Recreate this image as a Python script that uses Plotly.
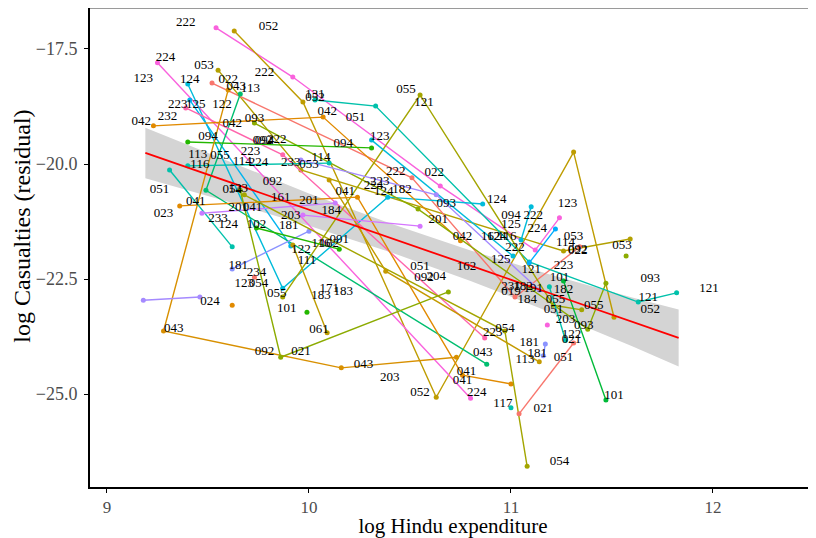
import plotly.graph_objects as go

# ---- district trajectories (log Hindu expenditure, log casualties residual) ----
district_codes = ["222", "052", "224", "053", "022", "124", "125", "113", "223", "042",
                  "093", "121", "055", "094", "041", "043", "051", "233", "024", "181",
                  "101", "101", "092", "061", "054", "021", "117", "181", "113", "224",
                  "222", "122", "102", "201", "234", "043", "116", "123", "203", "053", "093"]
district_colors = ["#F962DD", "#BE9C00", "#F962DD", "#B3A000", "#F8766D", "#00BBDA", "#00B4EF", "#00BE70", "#FF65AC", "#E18A00",
                   "#8CAB00", "#00C1AB", "#A3A500", "#24B700", "#E18A00", "#D89000", "#00C1AB", "#C77CFF", "#A58AFF", "#8B93FF",
                   "#24B700", "#00BA38", "#8CAB00", "#BE9C00", "#A3A500", "#F8766D", "#00C1AB", "#8B93FF", "#C49A00", "#00ACFC",
                   "#00BBDA", "#00C1AB", "#24B700", "#D575FE", "#F8766D", "#E18A00", "#00C1AB", "#00BBDA", "#F962DD", "#8CAB00", "#A58AFF"]
district_x = [
    [9.54, 9.92, 10.65, 11.12, 11.24],
    [9.63, 9.97, 10.63, 11.31, 11.51],
    [9.25, 10.80],
    [9.55, 9.96, 11.26, 11.59],
    [9.52, 10.51, 11.02, 11.34],
    [9.40, 9.87, 10.39, 10.86],
    [9.41, 9.91],
    [9.66, 9.49, 10.88],
    [9.39, 9.87, 10.87],
    [9.23, 10.07, 10.75],
    [9.73, 10.54, 11.38, 11.47],
    [10.03, 10.33, 11.09, 11.63, 11.82],
    [9.87, 10.55, 11.21, 11.35],
    [9.40, 10.31],
    [9.36, 10.24, 10.76, 11.00],
    [9.60, 9.28, 10.16, 10.73],
    [9.31, 9.62],
    [9.47, 10.13],
    [9.18, 9.46],
    [9.62, 10.00],
    [9.99],
    [11.26, 11.47],
    [9.66, 9.86, 10.69],
    [9.92, 10.09],
    [9.68, 10.97, 11.08],
    [11.04, 11.31],
    [11.00],
    [11.17, 11.16],
    [10.10, 10.38, 11.14],
    [11.09, 11.22],
    [11.10, 11.05],
    [11.19, 11.27],
    [9.74, 10.15],
    [9.97, 10.55],
    [9.73],
    [9.62],
    [9.40, 10.10],
    [10.31, 11.01],
    [11.18],
    [11.57],
    [9.96, 10.63, 11.14],
]
district_y = [
    [-17.04, -18.11, -20.48, -21.87, -21.17],
    [-17.11, -18.65, -25.07, -19.74, -23.33],
    [-17.80, -25.09],
    [-17.96, -20.13, -21.89, -21.63],
    [-18.24, -20.30, -22.89, -21.80],
    [-18.26, -22.70, -20.72, -20.87],
    [-18.61, -21.78],
    [-18.48, -20.57, -24.35],
    [-18.78, -19.80, -23.78],
    [-19.17, -18.98, -21.67],
    [-19.11, -20.98, -23.59, -22.59],
    [-18.61, -18.74, -22.13, -23.00, -22.80],
    [-22.89, -18.50, -23.07, -23.17],
    [-19.52, -19.65],
    [-20.91, -20.72, -24.59, -24.78],
    [-18.39, -23.63, -24.43, -24.20],
    [-20.13, -21.80],
    [-21.07, -20.85],
    [-22.96, -22.89],
    [-22.28, -21.46],
    [-23.22],
    [-22.54, -25.13],
    [-20.57, -24.20, -22.78],
    [-21.76, -23.67],
    [-20.67, -23.63, -26.57],
    [-25.43, -23.89],
    [-25.30],
    [-23.91, -24.17],
    [-20.35, -22.33, -24.30],
    [-22.15, -21.41],
    [-20.93, -21.65],
    [-22.67, -23.83],
    [-21.39, -21.85],
    [-21.11, -21.35],
    [-22.46],
    [-23.07],
    [-20.04, -19.98],
    [-19.48, -22.00],
    [-23.50],
    [-22.00],
    [-19.91, -20.67, -22.74],
]

# ---- district code labels ----
label_text = ["222", "052", "224", "053", "222", "123", "124", "022", "043", "113", "131", "052", "055", "121",
              "223", "125", "122", "042", "232", "042", "093", "042", "051", "094", "123", "094", "092", "094",
              "222", "223", "113", "055", "116", "114", "224", "233", "114", "053", "222", "022", "223", "224",
              "182", "124", "051", "092", "054", "123", "161", "201", "041", "093", "124", "201", "023", "041",
              "201", "041", "184", "094", "233", "124", "102", "203", "181", "042", "125", "222", "224", "123",
              "162", "124", "116", "222", "053", "114", "022", "092", "122", "116", "162", "091", "111", "125",
              "121", "223", "053", "162", "051", "092", "204", "171", "183", "183", "181", "234", "123", "054",
              "055", "024", "101", "043", "092", "021", "061", "231", "182", "191", "101", "182", "055", "051",
              "184", "019", "093", "121", "121", "052", "055", "203", "093", "122", "021", "051", "223", "054",
              "181", "181", "113", "043", "041", "041", "224", "052", "117", "021", "054", "101", "043", "203"]
label_x = [9.39, 9.80, 9.29, 9.48, 9.78, 9.18, 9.41, 9.60, 9.64, 9.71, 10.03, 10.03, 10.48, 10.57,
           9.35, 9.44, 9.57, 9.17, 9.30, 9.62, 9.73, 10.09, 10.23, 9.50, 10.35, 10.17, 9.77, 9.78,
           9.84, 9.71, 9.45, 9.56, 9.46, 9.67, 9.75, 9.91, 10.06, 10.00, 10.43, 10.62, 10.35, 10.32,
           10.46, 10.37, 9.26, 9.82, 9.62, 9.65, 9.86, 10.00, 10.18, 10.68, 10.93, 10.64, 9.28, 9.44,
           9.65, 9.72, 10.11, 11.00, 9.55, 9.60, 9.74, 9.91, 9.90, 10.76, 11.00, 11.11, 11.13, 11.28,
           10.90, 10.93, 10.98, 11.02, 11.31, 11.27, 11.33, 11.33, 9.96, 10.06, 10.10, 10.15, 9.99, 10.95,
           11.10, 11.26, 11.55, 10.78, 10.55, 10.57, 10.63, 10.10, 10.17, 10.06, 9.65, 9.74, 9.68, 9.75,
           9.84, 9.51, 9.89, 9.33, 9.78, 9.96, 10.05, 11.00, 11.06, 11.11, 11.24, 11.26, 11.22, 11.21,
           11.08, 11.00, 11.69, 11.98, 11.68, 11.69, 11.41, 11.27, 11.36, 11.30, 11.30, 11.26, 10.91, 10.97,
           11.09, 11.13, 11.07, 10.86, 10.78, 10.76, 10.83, 10.55, 10.96, 11.16, 11.24, 11.51, 10.27, 10.40]
label_y = [-16.93, -17.02, -17.70, -17.87, -18.02, -18.15, -18.17, -18.17, -18.33, -18.37, -18.50, -18.57, -18.39, -18.67,
           -18.72, -18.72, -18.72, -19.09, -18.98, -19.13, -19.02, -18.87, -19.00, -19.41, -19.41, -19.57, -19.50, -19.50,
           -19.48, -19.74, -19.80, -19.83, -20.02, -19.96, -19.98, -19.98, -19.87, -20.02, -20.17, -20.20, -20.39, -20.48,
           -20.57, -20.61, -20.57, -20.39, -20.57, -20.54, -20.74, -20.80, -20.61, -20.87, -20.78, -21.22, -21.07, -20.83,
           -20.96, -20.96, -21.02, -21.13, -21.20, -21.33, -21.33, -21.13, -21.35, -21.57, -21.33, -21.13, -21.41, -20.87,
           -21.59, -21.59, -21.59, -21.83, -21.57, -21.72, -21.89, -21.87, -21.87, -21.74, -21.74, -21.65, -22.11, -22.07,
           -22.30, -22.22, -21.78, -22.24, -22.24, -22.48, -22.46, -22.72, -22.78, -22.87, -22.22, -22.37, -22.61, -22.61,
           -22.83, -23.00, -23.15, -23.59, -24.09, -24.07, -23.61, -22.67, -22.67, -22.72, -22.48, -22.74, -22.96, -23.17,
           -22.96, -22.78, -22.50, -22.72, -22.91, -23.17, -23.07, -23.39, -23.52, -23.70, -23.83, -24.20, -23.67, -23.59,
           -23.89, -24.13, -24.26, -24.11, -24.52, -24.70, -24.98, -24.98, -25.20, -25.33, -26.48, -25.04, -24.37, -24.65]

# ---- fitted regression line and confidence band ----
fit_x = [9.19, 9.6, 10.0, 10.4, 10.8, 11.2, 11.6, 11.83]
fit_y = [-19.76, -20.38, -20.99, -21.60, -22.21, -22.82, -23.43, -23.78]
band_half = [0.55, 0.44, 0.35, 0.31, 0.33, 0.41, 0.53, 0.62]

x_ticks = [9, 10, 11, 12]
y_ticks = [-25.0, -22.5, -20.0, -17.5]

SERIF = "Liberation Serif, Times New Roman, serif"

fig = go.Figure()

upper = [y + h for y, h in zip(fit_y, band_half)]
lower = [y - h for y, h in zip(fit_y, band_half)]
fig.add_trace(go.Scatter(
    x=fit_x + fit_x[::-1], y=upper + lower[::-1],
    fill="toself", fillcolor="rgb(212,212,212)", line=dict(width=0),
    mode="lines", hoverinfo="skip", showlegend=False))

for code, col, xs, ys in zip(district_codes, district_colors, district_x, district_y):
    fig.add_trace(go.Scatter(
        x=xs, y=ys, mode="lines+markers", name=code,
        line=dict(color=col, width=1.4),
        marker=dict(color=col, size=5),
        showlegend=False))

fig.add_trace(go.Scatter(
    x=fit_x, y=fit_y, mode="lines", line=dict(color="#FF0000", width=1.8),
    hoverinfo="skip", showlegend=False))

fig.add_trace(go.Scatter(
    x=label_x, y=label_y, text=label_text, mode="text",
    textfont=dict(family=SERIF, size=13, color="black"),
    textposition="middle center", showlegend=False, hoverinfo="skip"))

fig.add_shape(type="line", xref="paper", yref="paper", x0=0, x1=1, y0=1, y1=1,
              line=dict(color="#9A9A9A", width=2))

# y-axis title (the reference panel extends above the visible frame, so the title sits above centre)
fig.add_annotation(text="log Casualties (residual)", textangle=-90,
                   xref="paper", yref="paper", x=-0.094, y=0.545,
                   xanchor="center", yanchor="middle", showarrow=False,
                   font=dict(family=SERIF, size=24, color="black"))

fig.update_layout(
    width=808, height=530,
    margin=dict(l=82, r=0, t=0, b=51, autoexpand=False),
    paper_bgcolor="white", plot_bgcolor="white",
    font=dict(family=SERIF, color="black"),
    xaxis=dict(range=[8.916, 12.51], tickvals=x_ticks, ticktext=[str(v) for v in x_ticks],
               showgrid=False, zeroline=False, showline=True, linecolor="black", linewidth=2,
               ticks="outside", ticklen=4, tickcolor="black", tickwidth=1,
               tickfont=dict(family=SERIF, size=17, color="#4D4D4D"),
               automargin=False,
               title=dict(text="log Hindu expenditure", font=dict(family=SERIF, size=21, color="black"),
                          standoff=4)),
    yaxis=dict(range=[-27.02, -16.609], tickvals=y_ticks, tickformat=".1f",
               showgrid=False, zeroline=False, showline=True, linecolor="black", linewidth=2,
               ticks="outside", ticklen=4, tickcolor="black", tickwidth=1,
               tickfont=dict(family=SERIF, size=18, color="#4D4D4D"),
               ticklabelstandoff=3, automargin=False),
)

fig.write_html("out.html")
